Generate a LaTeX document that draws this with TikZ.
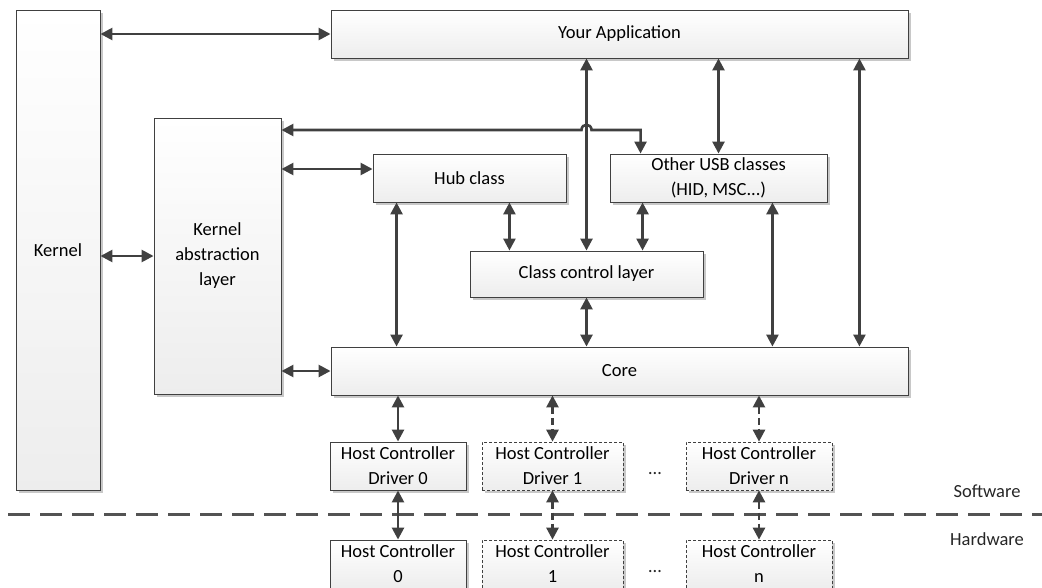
\documentclass[tikz,border=0pt]{standalone}
\usepackage{fontspec}
\setmainfont{Carlito}
\usetikzlibrary{positioning,shadows,calc}
\usetikzlibrary{arrows.meta}
\definecolor{linegray}{HTML}{404040}
\definecolor{shadowgray}{HTML}{C8C8C8}
\tikzstyle{block} = [draw=linegray, line width=0.9pt, top color=white, bottom color=black!7, drop shadow={shadow xshift=3pt,shadow yshift=-3pt,fill=shadowgray,opacity=1}, align=center, inner sep=0pt, font=\fontsize{18.5}{25}\selectfont]
\tikzstyle{dblock} = [block, dash pattern=on 3pt off 2pt, line width=0.7pt]
\tikzstyle{biarrow} = [line width=2.6pt, draw=linegray, {Triangle[length=12pt,width=12pt]}-{Triangle[length=12pt,width=12pt]}]
\tikzstyle{dbiarrow} = [biarrow, dash pattern=on 7pt off 4pt]
\tikzstyle{side} = [font=\fontsize{18.5}{25}\selectfont, text=black!85]

\begin{document}
\begin{tikzpicture}[x=1pt,y=-1pt]
\useasboundingbox (0,0) rectangle (1042,587);
% software / hardware border
\coordinate (sepL) at (8,514);
\coordinate (sepR) at (1042,514);
\draw[line width=3pt, draw=linegray!90, dash pattern=on 22pt off 10pt] (sepL)--(sepR);
\node[side] (sw) at (987,491) {Software};
\node[side] (hw) at (987,539) {Hardware};
% blocks
\node[block, minimum width=84pt, minimum height=480pt] (kernel) at (58,250) {Kernel};
\node[block, minimum width=577pt, minimum height=48pt] (app) at (619.5,34) {Your Application};
\node[block, minimum width=127pt, minimum height=276pt] (kal) at (217.5,256) {Kernel\\abstraction\\layer};
\node[block, minimum width=193pt, minimum height=48pt] (hub) at (469.5,178) {Hub class};
\node[block, minimum width=217pt, minimum height=48pt] (other) at (718.5,178) {Other USB classes\\(HID, MSC...)};
\node[block, minimum width=233pt, minimum height=46pt] (ccl) at (586.5,274) {Class control layer};
\node[block, minimum width=577pt, minimum height=48pt] (core) at (619.5,371) {Core};
\node[block, minimum width=136pt, minimum height=48pt] (hcd0) at (398,466) {Host Controller\\Driver 0};
\node[dblock, minimum width=141pt, minimum height=48pt] (hcd1) at (552.5,466) {Host Controller\\Driver 1};
\node[dblock, minimum width=146pt, minimum height=48pt] (hcdn) at (759,466) {Host Controller\\Driver n};
\node[block, minimum width=136pt, minimum height=48pt] (hc0) at (398,564) {Host Controller\\0};
\node[dblock, minimum width=141pt, minimum height=48pt] (hc1) at (552.5,564) {Host Controller\\1};
\node[dblock, minimum width=146pt, minimum height=48pt] (hcn) at (759,564) {Host Controller\\n};
\node[side] (dots1) at (655,474) {\dots};
\node[side] (dots2) at (655,572) {\dots};
% connectors
\draw[biarrow] (kernel.east |- app.west) -- (app.west);
\draw[biarrow] (kernel.east |- kal.west) -- (kal.west);
\draw[biarrow] ([yshift=9pt]kal.east |- hub.west) -- ([yshift=9pt]hub.west);
\draw[biarrow] (kal.east |- core.west) -- (core.west);
\coordinate (hopL) at (581.5,130);
\coordinate (hopR) at (591.5,130);
\draw[biarrow] (kal.east |- hopL) -- (hopL) .. controls +(0,-7) and +(0,-7) .. (hopR) -| ([xshift=31pt]other.north west);
\draw[biarrow] (ccl.north |- app.south) -- (ccl.north);
\draw[biarrow] (other.north |- app.south) -- (other.north);
\draw[biarrow] ([xshift=-49pt]app.south east) -- ([xshift=-49pt]core.north east);
\draw[biarrow] ([xshift=24pt]hub.south west) -- ([xshift=24pt]hub.south west |- core.north);
\draw[biarrow] ([xshift=-57pt]hub.south east) -- ([xshift=-57pt]hub.south east |- ccl.north);
\draw[biarrow] ([xshift=33pt]other.south west) -- ([xshift=33pt]other.south west |- ccl.north);
\draw[biarrow] ([xshift=-55pt]other.south east) -- ([xshift=-55pt]other.south east |- core.north);
\draw[biarrow] (ccl.south) -- (ccl.south |- core.north);
\draw[biarrow] (hcd0.north |- core.south) -- (hcd0.north);
\draw[dbiarrow] (hcd1.north |- core.south) -- (hcd1.north);
\draw[dbiarrow] (hcdn.north |- core.south) -- (hcdn.north);
\draw[biarrow] (hcd0.south) -- (hc0.north);
\draw[dbiarrow] (hcd1.south) -- (hc1.north);
\draw[dbiarrow] (hcdn.south) -- (hcn.north);
\end{tikzpicture}
\end{document}
